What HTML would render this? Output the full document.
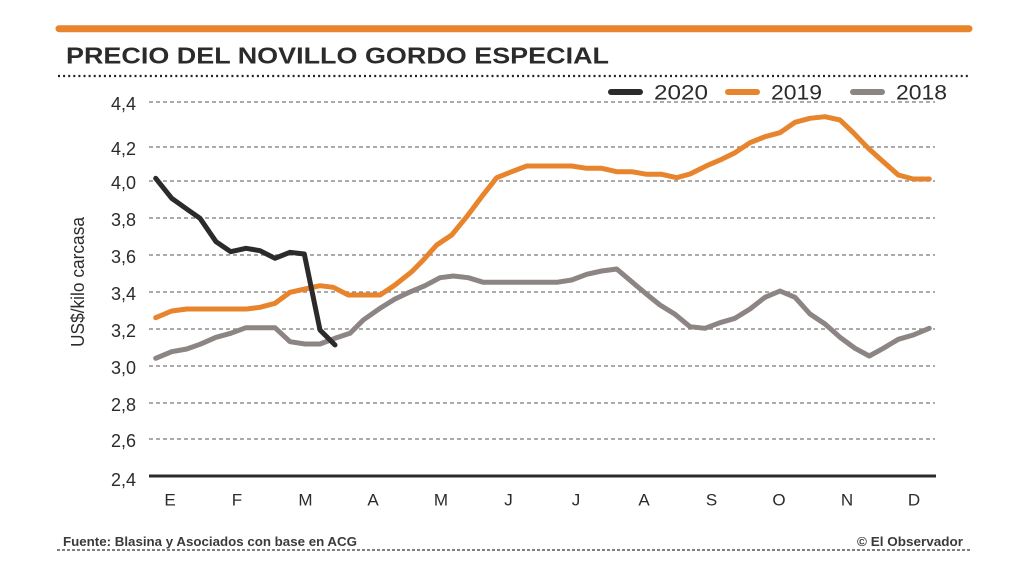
<!DOCTYPE html>
<html><head><meta charset="utf-8"><style>
html,body{margin:0;padding:0;background:#fff;}
svg{display:block;}
text{font-family:"Liberation Sans",sans-serif;}
</style></head><body>
<svg width="1024" height="576" viewBox="0 0 1024 576" xmlns="http://www.w3.org/2000/svg">
<rect width="1024" height="576" fill="#ffffff"/>
<line x1="59" y1="28.7" x2="969" y2="28.7" stroke="#e8842c" stroke-width="7" stroke-linecap="round"/>
<text x="66" y="63.5" font-size="23.5" font-weight="bold" fill="#2b2b2b" textLength="543" lengthAdjust="spacingAndGlyphs">PRECIO DEL NOVILLO GORDO ESPECIAL</text>
<line x1="58" y1="76" x2="968" y2="76" stroke="#222" stroke-width="2.2" stroke-dasharray="2,3.1"/>
<!-- legend -->
<g stroke-width="6" stroke-linecap="round">
<line x1="611" y1="92" x2="640" y2="92" stroke="#2b2b2b"/>
<line x1="728" y1="92" x2="757" y2="92" stroke="#e8842c"/>
<line x1="853" y1="92" x2="882" y2="92" stroke="#8c8584"/>
</g>
<g font-size="21" fill="#2b2b2b">
<text x="654" y="99.5" textLength="54" lengthAdjust="spacingAndGlyphs">2020</text>
<text x="771" y="99.5" textLength="51" lengthAdjust="spacingAndGlyphs">2019</text>
<text x="896" y="99.5" textLength="51" lengthAdjust="spacingAndGlyphs">2018</text>
</g>
<!-- gridlines -->
<g stroke="#8f8f8f" stroke-width="1.5" stroke-dasharray="4,3">
<line x1="149" y1="102" x2="935" y2="102"/>
<line x1="149" y1="147" x2="935" y2="147"/>
<line x1="149" y1="181" x2="935" y2="181"/>
<line x1="149" y1="218" x2="935" y2="218"/>
<line x1="149" y1="255" x2="935" y2="255"/>
<line x1="149" y1="292" x2="935" y2="292"/>
<line x1="149" y1="329" x2="935" y2="329"/>
<line x1="149" y1="366" x2="935" y2="366"/>
<line x1="149" y1="403" x2="935" y2="403"/>
<line x1="149" y1="439" x2="935" y2="439"/>
</g>
<line x1="149" y1="476" x2="936" y2="476" stroke="#2b2b2b" stroke-width="3"/>
<!-- y labels -->
<g font-size="18" fill="#2b2b2b" text-anchor="end">
<text x="136" y="110">4,4</text>
<text x="136" y="155">4,2</text>
<text x="136" y="189">4,0</text>
<text x="136" y="226">3,8</text>
<text x="136" y="263">3,6</text>
<text x="136" y="300">3,4</text>
<text x="136" y="337">3,2</text>
<text x="136" y="374">3,0</text>
<text x="136" y="411">2,8</text>
<text x="136" y="447">2,6</text>
<text x="136" y="486">2,4</text>
</g>
<text transform="translate(84,347) rotate(-90)" font-size="18" fill="#2b2b2b" textLength="130" lengthAdjust="spacingAndGlyphs">US$/kilo carcasa</text>
<!-- month labels -->
<g font-size="17" fill="#2b2b2b" text-anchor="middle">
<text x="170" y="505.5">E</text>
<text x="237" y="505.5">F</text>
<text x="305.5" y="505.5">M</text>
<text x="373" y="505.5">A</text>
<text x="441" y="505.5">M</text>
<text x="508.5" y="505.5">J</text>
<text x="576" y="505.5">J</text>
<text x="644" y="505.5">A</text>
<text x="711.5" y="505.5">S</text>
<text x="779" y="505.5">O</text>
<text x="847" y="505.5">N</text>
<text x="914" y="505.5">D</text>
</g>
<!-- series -->
<g fill="none" stroke-width="5" stroke-linejoin="round" stroke-linecap="round">
<polyline stroke="#8c8584" points="155.7,358.3 171.7,351.7 186.7,349 200,344.3 216,337.3 230.7,333.3 246,327.7 260,327.7 275,327.7 290,341.7 305,344 320,344 335,338.3 350,333.3 363.3,320 380,308.3 395,299 408.3,292.7 425,285.7 440,277.7 453.3,276 468.3,277.7 483.3,282.3 500,282.3 556.7,282.3 571.7,280 586.7,274.3 601.7,271 616.7,269 631.7,281.7 646.7,294.3 660,305 675,314.3 690,326.7 705,328.3 720,322.7 735,318.3 750,309 765,297.3 780,291 795,297.3 810,314 825,324 840,337.3 855,348.3 869.3,356 883.3,348.3 898.3,339.3 913.3,335 929.3,328.3"/>
<polyline stroke="#e8842c" points="155.7,317.7 171.7,311 186.7,309 200,309 246.7,309 260,307.3 275,303.3 290,292.3 305,289 320,285.7 333.3,287.3 348.3,295 363.3,295 380,295 395,285 411.7,271.7 423.3,260 436.7,245 451.7,235 466.7,216.7 481.7,196.7 496.7,177.7 511.7,171.7 526.7,166 543.3,166 558.3,166 571.7,166 586.7,168.3 601.7,168.3 616.7,171.7 631.7,171.7 646.7,174.3 661.7,174.3 676.7,177.7 690,174 706.7,165.7 721.7,159.3 735,152.7 750,142.7 765,136.7 780,132.7 795,122.3 810,118.3 825,116.7 840,120 853.3,132.7 868.3,148.3 883.3,161.7 898.3,175 913.3,179 929.3,179"/>
<polyline stroke="#2b2b2b" points="155.7,178.3 171.7,198.3 186.7,209 200,218.3 216,241.7 230.7,251.7 246,248.3 260,250.7 275,258.3 290,252.3 304.3,254 320,330 335,345"/>
</g>
<!-- footer -->
<text x="63" y="546" font-size="13" font-weight="bold" fill="#3a3a3a" textLength="294" lengthAdjust="spacingAndGlyphs">Fuente: Blasina y Asociados con base en ACG</text>
<text x="857" y="546" font-size="13" font-weight="bold" fill="#3a3a3a" textLength="106" lengthAdjust="spacingAndGlyphs">© El Observador</text>
<line x1="57" y1="550" x2="972" y2="550" stroke="#333" stroke-width="1.3" stroke-dasharray="3,2"/>
</svg>
</body></html>
